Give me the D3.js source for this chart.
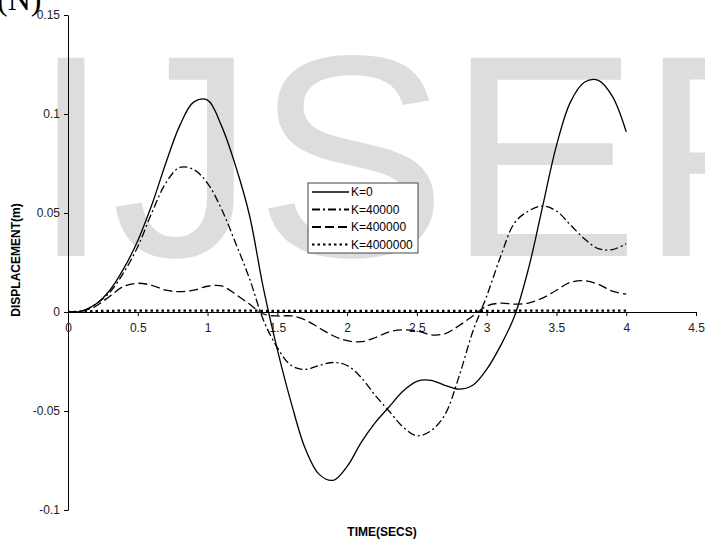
<!DOCTYPE html>
<html>
<head>
<meta charset="utf-8">
<script src="https://cdn.jsdelivr.net/npm/d3@7"></script>
<style>
  body { margin: 0; background: #fff; }
  svg { display: block; font-family: Arial, 'Liberation Sans', sans-serif; }
</style>
</head>
<body>
<svg id="container" width="705" height="540"></svg>
<script>
// time steps (s)
const time = [0, 0.1, 0.2, 0.3, 0.4, 0.5, 0.6, 0.7, 0.8, 0.9, 1.0,
  1.1, 1.2, 1.3, 1.4, 1.5, 1.6, 1.7, 1.8, 1.9, 2.0,
  2.1, 2.2, 2.3, 2.4, 2.5, 2.6, 2.7, 2.8, 2.9, 3.0,
  3.1, 3.2, 3.3, 3.4, 3.5, 3.6, 3.7, 3.8, 3.9, 4.0]

const k0 = [0, 0.0005, 0.004, 0.011, 0.022, 0.036, 0.054, 0.075, 0.094, 0.106, 0.107,
  0.094, 0.074, 0.049, 0.012, -0.019, -0.046, -0.069, -0.082, -0.085, -0.078,
  -0.066, -0.056, -0.048, -0.040, -0.035, -0.0345, -0.037, -0.039, -0.037, -0.029,
  -0.017, -0.002, 0.022, 0.053, 0.084, 0.106, 0.116, 0.117, 0.109, 0.091]

const k40000 = [0, 0.0005, 0.004, 0.010, 0.020, 0.033, 0.050, 0.065, 0.073, 0.072, 0.065,
  0.052, 0.035, 0.017, -0.004, -0.018, -0.027, -0.029, -0.027, -0.0255, -0.027,
  -0.033, -0.042, -0.050, -0.058, -0.0625, -0.060, -0.052, -0.033, -0.010, 0.008,
  0.028, 0.045, 0.051, 0.0535, 0.051, 0.044, 0.037, 0.032, 0.0315, 0.0345]

const k400000 = [0, 0.0005, 0.003, 0.008, 0.013, 0.0145, 0.0135, 0.011, 0.0103, 0.011, 0.013,
  0.0132, 0.009, 0.004, -0.001, -0.002, -0.002, -0.004, -0.008, -0.012, -0.0145,
  -0.015, -0.013, -0.010, -0.009, -0.0095, -0.0115, -0.011, -0.007, -0.002, 0.003,
  0.0045, 0.004, 0.0045, 0.007, 0.011, 0.015, 0.0158, 0.014, 0.0105, 0.009]

const k4000000 = [0, 0.0002, 0.0005, 0.0006, 0.0007, 0.0007, 0.0007, 0.0007, 0.0007, 0.0007, 0.0007,
  0.0007, 0.0007, 0.0007, 0.0006, 0.0006, 0.0006, 0.0006, 0.0006, 0.0006, 0.0006,
  0.0006, 0.0006, 0.0006, 0.0006, 0.0006, 0.0006, 0.0006, 0.0006, 0.0006, 0.0006,
  0.0006, 0.0007, 0.0007, 0.0007, 0.0007, 0.0007, 0.0007, 0.0007, 0.0007, 0.0007]

const seriesNames = ['K=0', 'K=40000', 'K=400000', 'K=4000000']
const seriesValues = [k0, k40000, k400000, k4000000]
const dashes = [null, '8,3,2,3', '9,4', '2.5,3']
const widths = [1.3, 1.3, 1.3, 2.2]

const xTicks = [0, 0.5, 1, 1.5, 2, 2.5, 3, 3.5, 4, 4.5]
const yTicks = [-0.1, -0.05, 0, 0.05, 0.1, 0.15]

const svg = d3.select('#container')

const x = d3.scaleLinear().domain([0, 4.5]).range([68, 696])
const y = d3.scaleLinear().domain([-0.1, 0.15]).range([510, 15])

// watermark behind everything
svg.append('text')
  .attr('x', 31)
  .attr('y', 256)
  .attr('font-size', 288)
  .attr('fill', '#dddddd')
  .text('IJSER')

// clipped heading from the page above
svg.append('text')
  .attr('x', -3)
  .attr('y', 10)
  .attr('font-family', "'Liberation Serif', 'Times New Roman', serif")
  .attr('font-size', 32)
  .attr('fill', '#000')
  .text('(N)')

const fmt = (d) => (d === 0 ? '0' : String(+d.toFixed(2)))

svg.append('g')
  .attr('transform', `translate(${x(0)},0)`)
  .call(d3.axisLeft(y).tickValues(yTicks).tickSize(4).tickSizeOuter(0).tickPadding(4).tickFormat(fmt))
  .call((g) => g.selectAll('text').attr('font-size', 12).attr('fill', '#222'))

svg.append('g')
  .attr('transform', `translate(0,${y(0)})`)
  .call(d3.axisBottom(x).tickValues(xTicks).tickSize(4).tickSizeOuter(0).tickPadding(7).tickFormat(fmt))
  .call((g) => g.selectAll('text').attr('font-size', 12).attr('fill', '#222'))

svg.selectAll('.domain, .tick line').attr('stroke', '#000')

const line = d3.line()
  .x((d, i) => x(time[i]))
  .y((d) => y(d))
  .curve(d3.curveCatmullRom)

svg.append('g')
  .selectAll('path')
  .data(seriesValues)
  .enter()
  .append('path')
  .attr('d', (d) => line(d))
  .attr('fill', 'none')
  .attr('stroke', '#000')
  .attr('stroke-width', (d, i) => widths[i])
  .attr('stroke-dasharray', (d, i) => dashes[i])

// axis titles
svg.append('text')
  .attr('transform', 'translate(16,260) rotate(-90)')
  .attr('text-anchor', 'middle')
  .attr('dy', '0.35em')
  .attr('font-size', 12)
  .attr('font-weight', 'bold')
  .text('DISPLACEMENT(m)')

svg.append('text')
  .attr('x', 382)
  .attr('y', 536)
  .attr('text-anchor', 'middle')
  .attr('font-size', 12)
  .attr('font-weight', 'bold')
  .text('TIME(SECS)')

// legend
const legend = svg.append('g').attr('transform', 'translate(308,183)')

legend.append('rect')
  .attr('width', 110)
  .attr('height', 70)
  .attr('fill', '#fff')
  .attr('stroke', '#444')
  .attr('stroke-width', 1)

const legendRows = legend.selectAll('g.row')
  .data(seriesNames)
  .enter()
  .append('g')
  .attr('class', 'row')
  .attr('transform', (d, i) => `translate(0,${9 + i * 17.5})`)

legendRows.append('line')
  .attr('x1', 4)
  .attr('x2', 41)
  .attr('stroke', '#000')
  .attr('stroke-width', (d, i) => (i === 0 ? 1.3 : 2))
  .attr('stroke-dasharray', (d, i) => dashes[i])

legendRows.append('text')
  .attr('x', 43)
  .attr('dy', '0.35em')
  .attr('font-size', 12)
  .text((d) => d)
</script>
</body>
</html>
